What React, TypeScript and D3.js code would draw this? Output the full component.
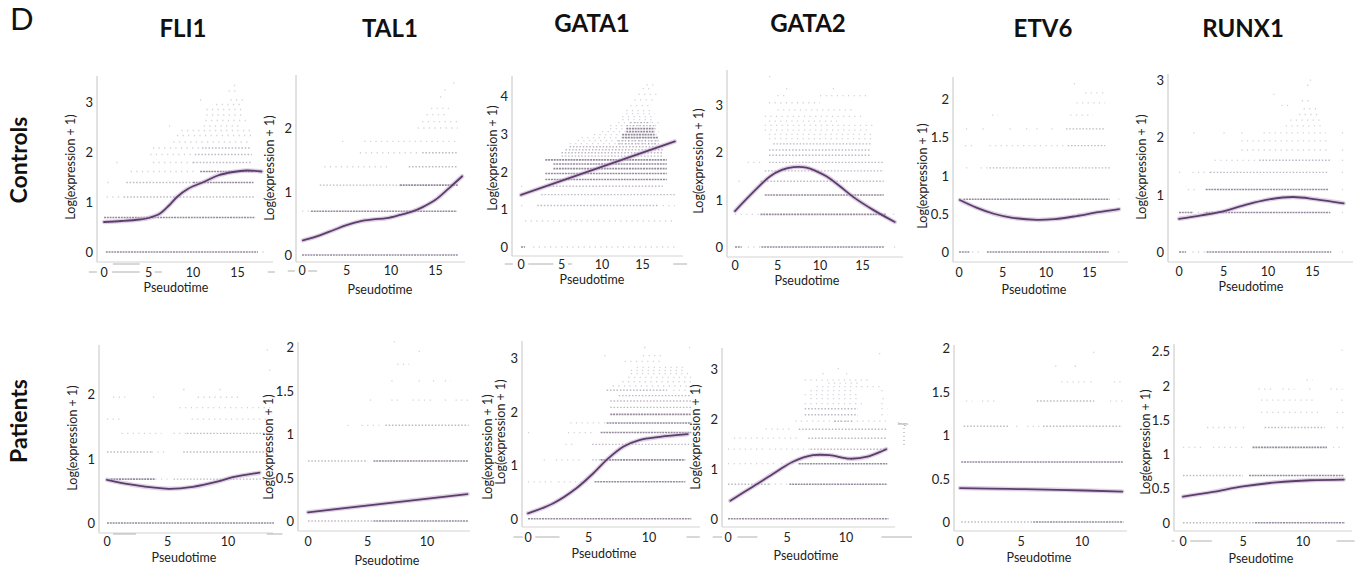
import React from 'react';
import * as d3 from 'd3';

type Band = [number, number, number, number]; // level, from, to, density(1..3)
type Pt = [number, number];

const genes = ['FLI1', 'TAL1', 'GATA1', 'GATA2', 'ETV6', 'RUNX1'];
const groups = ['Controls', 'Patients'];
const xTitle = 'Pseudotime';
const yTitle = 'Log(expression + 1)';
const xTicksCtrl = [0, 5, 10, 15];
const xTicksPat = [0, 5, 10];

// ---------- Controls ----------
const fli1CtrlTicks = [0, 1, 2, 3];
const fli1CtrlCurve: Pt[] = [[0, 0.6], [2, 0.62], [4, 0.65], [5, 0.68], [6.3, 0.77], [7.3, 0.93], [8.2, 1.1], [9.5, 1.27], [11.2, 1.4], [12.8, 1.53], [14.5, 1.6], [16, 1.63], [17.7, 1.61]];
const fli1CtrlBands: Band[] = [
  [0, 0.2, 17.3, 3], [0, 17.8, 18.3, 1],
  [0.69, 0, 17, 3],
  [1.1, 0.3, 2, 1], [1.1, 2.2, 17, 2],
  [1.39, 0.4, 0.7, 1], [1.39, 2.5, 10, 2], [1.39, 10, 16.8, 3],
  [1.61, 3, 10.5, 1], [1.61, 10.8, 16.8, 3],
  [1.79, 1.4, 1.7, 1], [1.79, 5.5, 10, 1], [1.79, 10, 16.5, 2],
  [1.95, 5.2, 10.2, 1], [1.95, 10.2, 16.6, 2],
  [2.08, 5.5, 11, 1], [2.08, 11, 16.5, 2],
  [2.2, 7.8, 16.5, 1], [2.33, 8.2, 16.6, 1], [2.43, 8.7, 16.8, 1],
  [2.52, 7.3, 7.6, 1], [2.52, 11.2, 15.3, 1], [2.63, 11.4, 16, 1],
  [2.74, 11.5, 15.6, 1], [2.85, 11.5, 15.8, 1], [2.95, 12.6, 15.3, 1],
  [3.04, 10.8, 11.1, 1], [3.04, 14.2, 16, 1], [3.22, 14, 15, 1], [3.33, 14.6, 15, 1],
];

const tal1CtrlTicks = [0, 1, 2];
const tal1CtrlCurve: Pt[] = [[0.1, 0.23], [2, 0.31], [3.5, 0.39], [5, 0.47], [6.5, 0.53], [8, 0.56], [9.5, 0.58], [11, 0.63], [12.5, 0.69], [13.5, 0.75], [15, 0.87], [16.5, 1.05], [18, 1.24]];
const tal1CtrlBands: Band[] = [
  [0, 0, 17.5, 3],
  [0.69, 0, 0.8, 1], [0.69, 1, 17.4, 3],
  [1.1, 2, 11, 2], [1.1, 11, 17.5, 3],
  [1.39, 2.5, 10, 1], [1.39, 12, 17.5, 2],
  [1.61, 6.5, 13, 1], [1.61, 13.5, 17.5, 2],
  [1.79, 4.5, 4.8, 1], [1.79, 7, 17.5, 1],
  [2.0, 13, 17.5, 1], [2.1, 13.5, 17.5, 1], [2.21, 14, 16.5, 1],
  [2.31, 14.5, 17, 1], [2.49, 15.5, 16, 1], [2.6, 16, 16.3, 1], [2.71, 17, 17.3, 1],
];

const gata1CtrlTicks = [0, 1, 2, 3, 4];
const gata1CtrlCurve: Pt[] = [[0, 1.38], [19, 2.8]];
const gata1CtrlBands: Band[] = [
  [0, 0, 0.5, 3], [0, 1.5, 19, 1],
  [0.69, 0.5, 19, 1],
  [1.1, 0, 0.3, 1], [1.1, 2, 17, 2], [1.1, 17.5, 19, 1],
  [1.39, 2.5, 19, 2],
  [1.61, 0, 0.3, 1], [1.61, 3.5, 17.5, 2],
  [1.79, 3, 18, 3], [1.95, 3, 18, 3], [2.08, 4, 18, 3], [2.2, 4, 18, 3], [2.31, 3, 18, 3],
  [2.41, 5, 17.5, 2], [2.5, 5, 17.5, 2], [2.58, 5.5, 17.5, 2], [2.66, 6, 17.5, 2],
  [2.74, 6, 17, 1], [2.74, 12, 17, 2],
  [2.82, 7, 17, 1], [2.82, 12, 17, 2],
  [2.9, 7.5, 17, 1], [2.9, 12.5, 17, 3],
  [2.98, 9, 17, 1], [2.98, 12.5, 16.5, 3],
  [3.06, 10, 17, 1], [3.06, 13, 16.5, 3],
  [3.14, 11, 17, 1], [3.14, 13, 16.5, 3],
  [3.22, 11, 17, 1], [3.22, 13, 16.5, 2],
  [3.3, 12, 17, 1], [3.3, 13.5, 16, 2],
  [3.38, 12.5, 16.5, 1], [3.46, 12.5, 16.5, 1], [3.54, 13, 16.5, 1], [3.62, 13, 16, 1],
  [3.75, 13.5, 16, 1], [3.9, 14, 16.5, 1], [4.05, 14.5, 17, 1], [4.2, 15, 16, 1], [4.3, 15.5, 16.5, 1],
];

const gata2CtrlTicks = [0, 1, 2, 3];
const gata2CtrlCurve: Pt[] = [[0, 0.76], [2.2, 1.17], [4.1, 1.49], [5.5, 1.63], [6.9, 1.69], [8.4, 1.68], [9.6, 1.6], [10.8, 1.49], [12.3, 1.29], [13.9, 1.06], [16.3, 0.78], [18.8, 0.53]];
const gata2CtrlBands: Band[] = [
  [0, 0, 0.8, 3], [0, 1.5, 3, 1], [0, 3.1, 17.6, 3], [0, 18.7, 19, 1],
  [0.69, 0, 3, 1], [0.69, 3, 17.8, 3], [0.69, 18.6, 18.9, 1],
  [1.1, 3.5, 17.5, 3],
  [1.39, 0.4, 0.7, 1], [1.39, 3, 17.5, 2],
  [1.61, 3.5, 17.5, 2],
  [1.79, 1.5, 3, 1], [1.79, 4, 17.5, 2],
  [1.94, 4, 16, 2], [2.05, 4, 16, 2], [2.18, 4.5, 16, 2],
  [2.29, 4, 16, 1], [2.38, 4, 16, 1], [2.47, 3.5, 15.5, 1], [2.57, 3.5, 16.5, 1],
  [2.66, 4, 12, 1], [2.76, 3.5, 15, 1], [2.9, 5, 14, 1], [3.05, 4, 10, 1],
  [3.2, 5, 6, 1], [3.2, 10, 15.5, 1], [3.35, 6, 6.3, 1], [3.35, 11.5, 11.8, 1], [3.6, 4, 4.3, 1],
];

const etv6CtrlTicks = [0, 0.5, 1, 1.5, 2];
const etv6CtrlCurve: Pt[] = [[0.1, 0.68], [2, 0.58], [4, 0.5], [6, 0.45], [8.9, 0.42], [11, 0.43], [13.5, 0.47], [16, 0.52], [18.4, 0.56]];
const etv6CtrlBands: Band[] = [
  [0, 0, 1.2, 3], [0, 1.5, 2.8, 1], [0, 3.2, 17.2, 3], [0, 18.3, 18.6, 1],
  [0.69, 0, 0.5, 1], [0.69, 0.5, 17.3, 3], [0.69, 18.3, 18.6, 1],
  [1.1, 0.8, 1.3, 1], [1.1, 2.5, 3.5, 1], [1.1, 3.5, 17.5, 2],
  [1.39, 0.7, 1.8, 1], [1.39, 3.5, 12, 1], [1.39, 12.5, 16.8, 2],
  [1.61, 0.8, 1.3, 1], [1.61, 2.7, 3, 1], [1.61, 5.8, 6.1, 1], [1.61, 7.7, 8, 1], [1.61, 8.9, 9.2, 1], [1.61, 10.6, 11, 1], [1.61, 12.3, 16.8, 2],
  [1.79, 3.8, 4.5, 1], [1.79, 12.8, 15.4, 1],
  [1.95, 13.5, 16.8, 1], [2.08, 14.5, 16.8, 1], [2.2, 13.2, 13.5, 1],
];

const runx1CtrlTicks = [0, 1, 2, 3];
const runx1CtrlCurve: Pt[] = [[0, 0.58], [2.5, 0.64], [4.7, 0.7], [7.2, 0.81], [9.8, 0.91], [12.8, 0.96], [15.4, 0.92], [18.5, 0.85]];
const runx1CtrlBands: Band[] = [
  [0, 0, 0.8, 3], [0, 1.5, 3, 1], [0, 3.1, 17.1, 3], [0, 18.3, 18.6, 1],
  [0.69, 0, 1.5, 3], [0.69, 1.5, 3, 1], [0.69, 3, 17, 3], [0.69, 18.3, 18.6, 1],
  [1.09, 1, 2, 1], [1.09, 3, 16.8, 3], [1.09, 18.3, 18.6, 1],
  [1.39, 0, 0.3, 1], [1.39, 1.5, 3.5, 1], [1.39, 3.5, 16.8, 2], [1.39, 18.3, 18.6, 1],
  [1.6, 4, 9, 1], [1.6, 9, 17, 2], [1.6, 18.3, 18.6, 1],
  [1.78, 7, 17, 1], [1.78, 18.3, 18.6, 1],
  [1.94, 7, 17, 1],
  [2.08, 1.6, 1.9, 1], [2.08, 5, 5.3, 1], [2.08, 7, 7.3, 1], [2.08, 9.5, 16.5, 1], [2.08, 18.3, 18.6, 1],
  [2.2, 12, 16, 1], [2.3, 12.5, 16, 1], [2.4, 13.5, 16, 1], [2.5, 14, 15.5, 1],
  [2.56, 11.5, 12.5, 1], [2.64, 13.8, 15, 1], [2.75, 10.6, 10.9, 1], [2.91, 14.4, 14.7, 1], [3.0, 14.7, 15, 1],
];

// ---------- Patients ----------
const fli1PatTicks = [0, 1, 2];
const fli1PatCurve: Pt[] = [[0, 0.67], [2.2, 0.59], [5.1, 0.53], [7.1, 0.56], [9.1, 0.64], [10.4, 0.71], [12.6, 0.78]];
const fli1PatBands: Band[] = [
  [0, 0, 13.8, 3],
  [0.68, 0.3, 4, 3], [0.68, 4, 5, 1], [0.68, 5.5, 13, 2],
  [1.1, 0, 3.7, 2], [1.1, 3.7, 5, 1], [1.1, 6.3, 13.8, 2],
  [1.39, 1.2, 4.5, 1], [1.39, 5.5, 6.6, 1], [1.39, 6.6, 13.5, 2],
  [1.61, 0, 1.2, 1], [1.61, 7, 13.5, 1],
  [1.79, 6, 13.5, 1],
  [1.95, 0.5, 1.5, 1], [1.95, 3.8, 4.1, 1], [1.95, 7.5, 11, 1],
  [2.07, 6.3, 6.7, 1], [2.07, 9.3, 9.6, 1],
  [2.37, 13.4, 13.6, 1], [2.68, 13.2, 13.4, 1],
];

const tal1PatTicks = [0, 0.5, 1, 1.5, 2];
const tal1PatCurve: Pt[] = [[0, 0.1], [13.4, 0.31]];
const tal1PatBands: Band[] = [
  [0, 0, 5.5, 2], [0, 5.5, 13.5, 3],
  [0.69, 0, 5, 2], [0.69, 5.5, 13.5, 3],
  [1.1, 3.3, 3.6, 1], [1.1, 4.5, 6, 1], [1.1, 6.5, 13.5, 2],
  [1.39, 5.2, 5.5, 1], [1.39, 7, 7.7, 1], [1.39, 8.8, 10.5, 1], [1.39, 11.5, 11.7, 1], [1.39, 12.4, 13.5, 1],
  [1.61, 7, 7.2, 1], [1.61, 9.3, 9.5, 1], [1.61, 10.5, 10.7, 1], [1.61, 11.5, 12, 1],
  [1.8, 7.5, 8.5, 1], [1.95, 9.3, 9.5, 1], [2.06, 7.2, 7.4, 1],
];

const gata1PatTicks = [0, 1, 2, 3];
const gata1PatCurve: Pt[] = [[0, 0.1], [2.1, 0.29], [4, 0.57], [5.4, 0.85], [6.5, 1.1], [7.9, 1.35], [9.2, 1.47], [10.9, 1.53], [13.2, 1.58]];
const gata1PatBands: Band[] = [
  [0, 0, 13.5, 3],
  [0.69, 0, 2, 1], [0.69, 2.5, 5, 1], [0.69, 5.5, 13, 3],
  [1.1, 1.3, 1.5, 1], [1.1, 2.3, 4.5, 1], [1.1, 5.3, 6, 2], [1.1, 6, 13, 3],
  [1.39, 3.1, 4, 1], [1.39, 5.3, 13.5, 2],
  [1.61, 0, 0.2, 1], [1.61, 3.3, 5.5, 1], [1.61, 6, 13.5, 3],
  [1.79, 3.5, 6.5, 1], [1.79, 6.5, 13.5, 3],
  [1.95, 6.8, 13.5, 3], [2.08, 6.8, 13.5, 2], [2.2, 6.8, 13.5, 2], [2.3, 7.5, 13.5, 2],
  [2.4, 6.5, 11.5, 2], [2.4, 12, 13.5, 1],
  [2.48, 7, 13.5, 1], [2.56, 7.8, 13.5, 1], [2.64, 8.3, 13.5, 1], [2.71, 8.5, 13.5, 1],
  [2.77, 8.5, 13, 1], [2.83, 9, 13, 1], [2.94, 8, 11, 1],
  [3.05, 6.3, 6.5, 1], [3.05, 9.5, 11, 1], [3.2, 9.6, 9.8, 1], [3.2, 13.3, 13.5, 1],
];

const gata2PatTicks = [0, 1, 2, 3];
const gata2PatCurve: Pt[] = [[0.2, 0.36], [2.1, 0.64], [4.1, 0.94], [5.5, 1.14], [7.2, 1.27], [8.6, 1.27], [10.3, 1.2], [11.8, 1.24], [13.4, 1.39]];
const gata2PatBands: Band[] = [
  [0, 0, 13.6, 3],
  [0.69, 0, 3.5, 2], [0.69, 3.5, 5, 1], [0.69, 5.2, 13.5, 3],
  [1.1, 0, 4, 1], [1.1, 4.5, 6, 1], [1.1, 6, 13.5, 3],
  [1.39, 0, 3, 1], [1.39, 3.5, 7, 1], [1.39, 7, 13.5, 2],
  [1.61, 0.5, 6, 1], [1.61, 6.8, 13.5, 2],
  [1.79, 3.2, 5.5, 1], [1.79, 6, 13.5, 2],
  [1.95, 5.7, 13.5, 1], [1.95, 9, 10.5, 2],
  [2.08, 6.5, 11, 2], [2.08, 13, 13.5, 1],
  [2.2, 6.5, 11, 2], [2.2, 13, 13.5, 1],
  [2.3, 6.5, 11.5, 1], [2.3, 13, 13.3, 1],
  [2.4, 7, 11, 1], [2.4, 13.1, 13.4, 1],
  [2.48, 6.5, 11, 1], [2.56, 7, 10.5, 1], [2.56, 13, 13.3, 1],
  [2.64, 7.5, 13, 1], [2.71, 8.5, 11, 1], [2.77, 6.5, 12, 1],
  [2.9, 8, 8.3, 1], [2.9, 10, 10.3, 1], [3.0, 9.3, 9.6, 1], [3.3, 12.8, 13.1, 1],
];

const etv6PatTicks = [0, 0.5, 1, 1.5, 2];
const etv6PatCurve: Pt[] = [[0, 0.39], [4, 0.38], [8, 0.37], [13.3, 0.35]];
const etv6PatBands: Band[] = [
  [0, 0.1, 6, 2], [0, 6, 13.4, 3],
  [0.69, 0.1, 13.4, 3],
  [1.1, 0.3, 4, 2], [1.1, 4.6, 4.8, 1], [1.1, 5.5, 6.7, 1], [1.1, 6.8, 13.3, 2],
  [1.39, 0.5, 1, 1], [1.39, 1.8, 3, 1], [1.39, 6.3, 11, 2], [1.39, 12.3, 13.3, 1],
  [1.61, 8.3, 10.5, 1], [1.61, 10.7, 10.9, 1], [1.61, 12.6, 13.3, 1],
  [1.79, 7.8, 8.2, 1], [1.79, 9.4, 9.8, 1], [1.95, 10.9, 11.1, 1],
];

const runx1PatTicks = [0, 0.5, 1, 1.5, 2, 2.5];
const runx1PatCurve: Pt[] = [[0, 0.38], [2.5, 0.45], [5, 0.53], [7.8, 0.59], [10.6, 0.62], [13.4, 0.63]];
const runx1PatBands: Band[] = [
  [0, 0, 6, 2], [0, 6, 13.5, 3],
  [0.69, 0, 5, 2], [0.69, 5.5, 13.4, 3],
  [1.1, 0, 1.5, 1], [1.1, 2.5, 5, 1], [1.1, 5.8, 12, 3], [1.1, 12.5, 13.4, 1],
  [1.39, 2, 4.5, 1], [1.39, 5, 5.2, 1], [1.39, 6.8, 11.8, 2], [1.39, 12.8, 13.4, 1],
  [1.61, 6.5, 11.3, 1], [1.61, 12.8, 13.4, 1],
  [1.79, 6.5, 10.8, 1], [1.79, 13.2, 13.4, 1],
  [1.95, 6.3, 7.7, 1], [1.95, 8.3, 9.3, 1], [1.95, 10.5, 10.7, 1], [1.95, 12.3, 13.3, 1],
  [2.08, 10.3, 10.8, 1], [2.52, 13.2, 13.4, 1],
];

// ---------- layout (pixel frames) ----------
interface Layout {
  x0: number; px: number; y0: number; py: number;
  L: number; T: number; B: number; R: number;
  tickY: number; titleX: number; titleY: number;
  yTitles: [number, number][];
  dashes: [number, number, number][]; // from, to (pseudotime), y pixel
}

const panels = [
  { gene: 0, row: 0, bands: fli1CtrlBands, curve: fli1CtrlCurve, yTicks: fli1CtrlTicks, xTicks: xTicksCtrl,
    lay: { x0: 104, px: 8.9, y0: 252, py: 50, L: 97, T: 76, B: 262, R: 273, tickY: 272, titleX: 176, titleY: 287, yTitles: [[70, 167]], dashes: [[-1.7, -0.8, 272], [0.9, 4, 272], [5.7, 6.5, 272], [18.4, 19.2, 272], [1, 4, 264]] } },
  { gene: 1, row: 0, bands: tal1CtrlBands, curve: tal1CtrlCurve, yTicks: tal1CtrlTicks, xTicks: xTicksCtrl,
    lay: { x0: 302, px: 8.9, y0: 255, py: 63.5, L: 296, T: 75, B: 262, R: 465, tickY: 270, titleX: 380, titleY: 289, yTitles: [[269, 168]], dashes: [[-1.6, -0.8, 271], [0.7, 1.7, 271]] } },
  { gene: 2, row: 0, bands: gata1CtrlBands, curve: gata1CtrlCurve, yTicks: gata1CtrlTicks, xTicks: xTicksCtrl,
    lay: { x0: 521, px: 8.1, y0: 247, py: 37.7, L: 512, T: 76, B: 256, R: 683, tickY: 264, titleX: 592, titleY: 279, yTitles: [[492, 158]], dashes: [[-2, -1, 264], [0.9, 4, 264], [5.8, 6.3, 264], [18.8, 20.5, 264]] } },
  { gene: 3, row: 0, bands: gata2CtrlBands, curve: gata2CtrlCurve, yTicks: gata2CtrlTicks, xTicks: xTicksCtrl,
    lay: { x0: 735, px: 8.5, y0: 247, py: 47.3, L: 727, T: 70, B: 257, R: 903, tickY: 265, titleX: 807, titleY: 280, yTitles: [[698, 161]], dashes: [] } },
  { gene: 4, row: 0, bands: etv6CtrlBands, curve: etv6CtrlCurve, yTicks: etv6CtrlTicks, xTicks: xTicksCtrl,
    lay: { x0: 959, px: 8.7, y0: 252, py: 76.5, L: 953, T: 77, B: 262, R: 1128, tickY: 272, titleX: 1034, titleY: 289, yTitles: [[922, 176]], dashes: [] } },
  { gene: 5, row: 0, bands: runx1CtrlBands, curve: runx1CtrlCurve, yTicks: runx1CtrlTicks, xTicks: xTicksCtrl,
    lay: { x0: 1179, px: 8.9, y0: 252, py: 57.3, L: 1168, T: 74, B: 262, R: 1353, tickY: 271, titleX: 1251, titleY: 286, yTitles: [[1141, 167]], dashes: [] } },
  { gene: 0, row: 1, bands: fli1PatBands, curve: fli1PatCurve, yTicks: fli1PatTicks, xTicks: xTicksPat,
    lay: { x0: 107, px: 12.1, y0: 523, py: 64.5, L: 99, T: 345, B: 533, R: 273, tickY: 541, titleX: 184, titleY: 557, yTitles: [[72, 438]], dashes: [[0.5, 2.4, 534], [13.2, 14.5, 534]] } },
  { gene: 1, row: 1, bands: tal1PatBands, curve: tal1PatCurve, yTicks: tal1PatTicks, xTicks: xTicksPat,
    lay: { x0: 308, px: 11.9, y0: 521, py: 87, L: 298, T: 342, B: 531, R: 470, tickY: 541, titleX: 387, titleY: 560, yTitles: [[268, 447]], dashes: [] } },
  { gene: 2, row: 1, bands: gata1PatBands, curve: gata1PatCurve, yTicks: gata1PatTicks, xTicks: xTicksPat,
    lay: { x0: 528, px: 12.1, y0: 518.7, py: 53.5, L: 522, T: 341, B: 527, R: 700, tickY: 537, titleX: 604, titleY: 553, yTitles: [[487, 447], [500, 432]], dashes: [[-1.2, -0.4, 537], [0.6, 2.6, 537], [13.1, 14.2, 537]] } },
  { gene: 3, row: 1, bands: gata2PatBands, curve: gata2PatCurve, yTicks: gata2PatTicks, xTicks: xTicksPat,
    lay: { x0: 728, px: 11.8, y0: 518.7, py: 50, L: 722, T: 348, B: 527, R: 895, tickY: 537, titleX: 806, titleY: 555, yTitles: [[695, 437]], dashes: [[-1.3, -0.5, 537], [0.8, 2.5, 537], [13, 15.6, 537]] } },
  { gene: 4, row: 1, bands: etv6PatBands, curve: etv6PatCurve, yTicks: etv6PatTicks, xTicks: xTicksPat,
    lay: { x0: 960, px: 12.2, y0: 522, py: 87, L: 954, T: 345, B: 531, R: 1127, tickY: 541, titleX: 1039, titleY: 557, yTitles: [], dashes: [] } },
  { gene: 5, row: 1, bands: runx1PatBands, curve: runx1PatCurve, yTicks: runx1PatTicks, xTicks: xTicksPat,
    lay: { x0: 1183, px: 12, y0: 522.7, py: 68.5, L: 1174, T: 344, B: 531, R: 1352, tickY: 541, titleX: 1261, titleY: 558, yTitles: [[1145, 442]], dashes: [[-0.95, -0.7, 541], [0.6, 2.4, 541], [12.8, 14.3, 541]] } },
];

const headerPos: [number, number][] = [[183, 37], [390, 37], [592, 32], [808, 32], [1043, 37], [1243, 37]];
const rowLabelPos: [number, number][] = [[18, 160], [18, 421]];

const FONT = "Lato, 'Open Sans', 'DejaVu Sans', sans-serif";

const bandStyle: Record<number, { stroke: string; w: number; dash: string; op: number }> = {
  3: { stroke: '#7e7086', w: 1.6, dash: '2 0.8', op: 0.8 },
  2: { stroke: '#8c8094', w: 1.4, dash: '1.5 1.8', op: 0.55 },
  1: { stroke: '#9e92a6', w: 1.3, dash: '1.2 4.4', op: 0.42 },
};

function Panel({ p }: { p: typeof panels[number] }) {
  const lay = p.lay as Layout;
  const x = d3.scaleLinear().domain([0, 10]).range([lay.x0, lay.x0 + 10 * lay.px]);
  const y = d3.scaleLinear().domain([0, 1]).range([lay.y0, lay.y0 - lay.py]);
  const line = d3.line<Pt>().x(d => x(d[0])).y(d => y(d[1])).curve(d3.curveCatmullRom.alpha(0.5));
  const path = line(p.curve) || '';
  return (
    <g>
      <line x1={lay.L} x2={lay.L} y1={lay.T} y2={lay.B} stroke="#c4c4c4" strokeWidth={1} />
      <line x1={lay.L} x2={lay.R} y1={lay.B} y2={lay.B} stroke="#d4d4d4" strokeWidth={1.2} />
      {lay.dashes.map((d, i) => (
        <line key={'d' + i} x1={x(d[0])} x2={x(d[1])} y1={d[2]} y2={d[2]} stroke="#b0b0b0" strokeWidth={1} />
      ))}
      {p.bands.map((b, i) => {
        const s = bandStyle[b[3]];
        return (
          <line key={'b' + i} x1={x(b[1])} x2={x(b[2])} y1={y(b[0])} y2={y(b[0])}
            stroke={s.stroke} strokeWidth={s.w} strokeDasharray={s.dash} opacity={s.op} />
        );
      })}
      <path d={path} fill="none" stroke="#c3aed0" strokeWidth={4.5} opacity={0.55} strokeLinecap="round" />
      <path d={path} fill="none" stroke="#5e3d6c" strokeWidth={1.8} strokeLinecap="round" />
      {p.yTicks.map(t => (
        <text key={'y' + t} x={lay.L - 4} y={y(t)} textAnchor="end" dominantBaseline="central"
          fontSize={13} fontFamily={FONT} fill="#222">{String(t)}</text>
      ))}
      {p.xTicks.map(t => (
        <text key={'x' + t} x={x(t)} y={lay.tickY} textAnchor="middle" dominantBaseline="central"
          fontSize={12.5} fontFamily={FONT} fill="#222" style={{ paintOrder: 'stroke' }} stroke="#fff" strokeWidth={4}>{String(t)}</text>
      ))}
      <text x={lay.titleX} y={lay.titleY} textAnchor="middle" dominantBaseline="central"
        fontSize={12.5} fontFamily={FONT} fill="#222">{xTitle}</text>
      {lay.yTitles.map((yt, i) => (
        <text key={'t' + i} transform={`translate(${yt[0]},${yt[1]}) rotate(-90)`} textAnchor="middle"
          dominantBaseline="central" fontSize={12.5} fontFamily={FONT} fill="#222">{yTitle}</text>
      ))}
    </g>
  );
}

export default function App() {
  return (
    <svg width={1369} height={573} viewBox="0 0 1369 573"
      style={{ position: 'absolute', left: 0, top: 0, background: '#fff' }}>
      <rect x={0} y={0} width={1369} height={573} fill="#fff" />
      <text x={10} y={30} fontSize={31} fontFamily={FONT} fill="#111">D</text>
      {genes.map((g, i) => (
        <text key={g} x={headerPos[i][0]} y={headerPos[i][1]} textAnchor="middle" fontSize={24}
          fontWeight={700} fontFamily={FONT} fill="#111">{g}</text>
      ))}
      {groups.map((g, i) => (
        <text key={g} transform={`translate(${rowLabelPos[i][0]},${rowLabelPos[i][1]}) rotate(-90)`}
          textAnchor="middle" dominantBaseline="central" fontSize={23} fontWeight={700}
          fontFamily={FONT} fill="#111">{g}</text>
      ))}
      {panels.map((p, i) => <Panel key={i} p={p} />)}
      <text x={903} y={425} fontSize={4} fontFamily={FONT} fill="#888" textAnchor="middle">Image</text>
      <line x1={904} x2={904} y1={428} y2={447} stroke="#999" strokeWidth={1} strokeDasharray="1 3" />
    </svg>
  );
}
